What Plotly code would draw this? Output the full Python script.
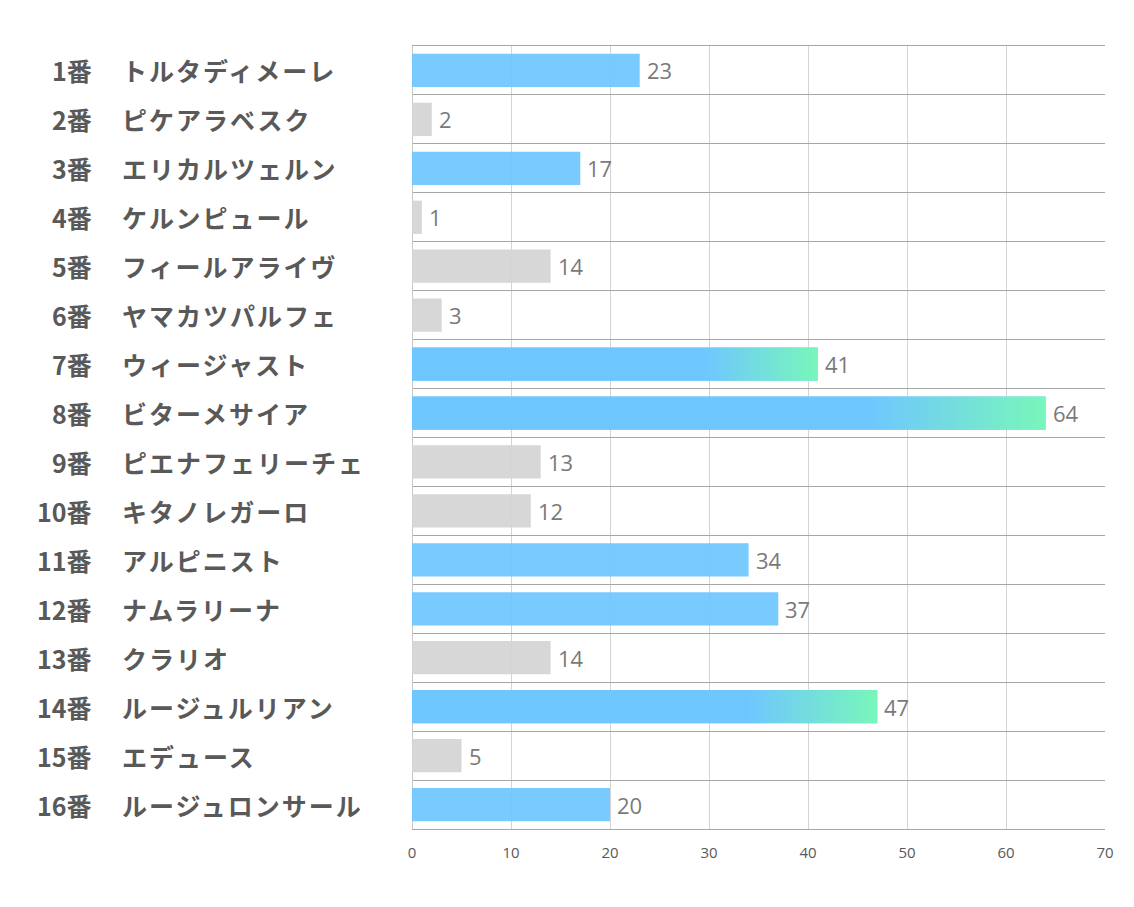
import plotly.graph_objects as go

numbers = ["1番", "2番", "3番", "4番", "5番", "6番", "7番", "8番",
           "9番", "10番", "11番", "12番", "13番", "14番", "15番", "16番"]
names = ["トルタディメーレ", "ピケアラベスク", "エリカルツェルン", "ケルンピュール",
         "フィールアライヴ", "ヤマカツパルフェ", "ウィージャスト", "ビターメサイア",
         "ピエナフェリーチェ", "キタノレガーロ", "アルピニスト", "ナムラリーナ",
         "クラリオ", "ルージュルリアン", "エデュース", "ルージュロンサール"]
values = [23, 2, 17, 1, 14, 3, 41, 64, 13, 12, 34, 37, 14, 47, 5, 20]
highlight = [1, 3, 7, 8, 11, 12, 14, 16]
gradient = [7, 8, 14]
x_ticks = [0, 10, 20, 30, 40, 50, 60, 70]

BLUE = "rgba(110,198,255,0.92)"
GREEN = "rgba(120,250,180,0.92)"
GRAY = "rgba(212,212,212,0.92)"
BAR_H = 0.68

ypos = list(range(len(values)))
colors = [BLUE if (i + 1) in highlight else GRAY for i in ypos]

fig = go.Figure()
fig.add_trace(go.Bar(
    x=values, y=ypos, orientation="h", width=BAR_H,
    marker=dict(color=colors, line=dict(width=0)),
    hoverinfo="skip",
))

for n in gradient:
    i = n - 1
    v = values[i]
    y0, y1 = i - BAR_H / 2, i + BAR_H / 2
    fig.add_trace(go.Scatter(
        x=[0, v, v, 0, 0], y=[y0, y0, y1, y1, y0],
        mode="lines", line=dict(width=0), fill="toself",
        fillgradient=dict(type="horizontal",
                          colorscale=[[0, BLUE], [0.72, BLUE], [1, GREEN]]),
        hoverinfo="skip", showlegend=False,
    ))

for i in ypos:
    fig.add_annotation(x=values[i], xref="x", y=i, yref="y", text=str(values[i]),
                       showarrow=False, xanchor="left", xshift=5,
                       font=dict(size=22, color="#7a7a7a", family="Open Sans"))
    fig.add_annotation(x=-0.4589, xref="paper", y=i, yref="y", text=numbers[i],
                       showarrow=False, xanchor="right",
                       font=dict(size=25, color="#595959", family="Noto Sans CJK JP", weight="bold"))
    fig.add_annotation(x=-0.4214, xref="paper", y=i, yref="y",
                       text='<span style="letter-spacing:2px">' + names[i] + '</span>',
                       showarrow=False, xanchor="left",
                       font=dict(size=25, color="#595959", family="Noto Sans CJK JP", weight="bold"))

fig.update_layout(
    width=1134, height=907,
    margin=dict(l=412, r=29, t=46, b=78),
    paper_bgcolor="white", plot_bgcolor="white",
    showlegend=False,
    xaxis=dict(range=[0, 70], tickvals=x_ticks, showgrid=True, gridcolor="#d4d4d4",
               gridwidth=1, zeroline=True, zerolinecolor="#c8c8c8", zerolinewidth=1,
               showline=True, mirror=True, linecolor="#a6a6a6", linewidth=1,
               tickfont=dict(size=15, color="#595959", family="Open Sans"),
               ticks="", ticklabelstandoff=10, fixedrange=True),
    yaxis=dict(range=[15.5, -0.5], tickvals=[k - 0.5 for k in range(len(values) + 1)],
               showticklabels=False, showgrid=True, gridcolor="#a6a6a6", gridwidth=1,
               zeroline=False, ticks="", fixedrange=True),
)

fig.write_html("out.html")
